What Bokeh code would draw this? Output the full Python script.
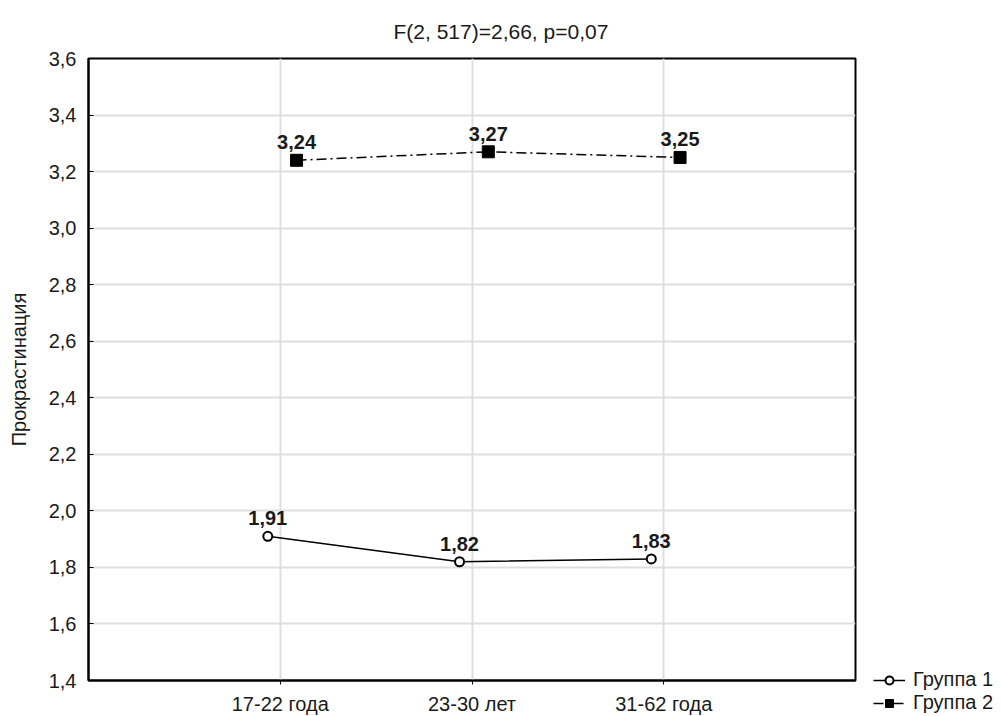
from bokeh.plotting import figure
from bokeh.models import (Range1d, FixedTicker, CustomJSTickFormatter,
                          ColumnDataSource, LabelSet, Legend, LegendItem)
from bokeh.core.properties import value
from bokeh.embed import file_html
from bokeh.resources import INLINE

# ---- data ----
categories = ["17-22 года", "23-30 лет", "31-62 года"]
group1 = [1.91, 1.82, 1.83]
group2 = [3.24, 3.27, 3.25]
series_names = ["Группа 1", "Группа 2"]
y_ticks = [1.4, 1.6, 1.8, 2.0, 2.2, 2.4, 2.6, 2.8, 3.0, 3.2, 3.4, 3.6]
title_text = "F(2, 517)=2,66, p=0,07"
y_label = "Прокрастинация"

FONT = "Liberation Sans"
TXT = "#1a1a1a"

pos = [i + 1 for i in range(len(categories))]
x1 = [v - 0.065 for v in pos]
x2 = [v + 0.085 for v in pos]


def fmt(v):
    return f"{v:.2f}".replace(".", ",")


p = figure(frame_width=767, frame_height=622,
           min_border_left=88, min_border_top=58, min_border_right=146, min_border_bottom=36,
           x_range=Range1d(0, len(categories) + 1), y_range=Range1d(y_ticks[0], y_ticks[-1]),
           output_backend="svg", toolbar_location=None, title=title_text)

p.title.text_font = FONT
p.title.text_font_size = "21px"
p.title.text_font_style = "normal"
p.title.text_color = TXT
p.title.align = "left"
p.title.offset = 305
p.title.standoff = 31

p.outline_line_color = "black"
p.outline_line_width = 2
p.background_fill_color = "white"
p.border_fill_color = "white"

# axes
xa = p.xaxis[0]
xa.ticker = FixedTicker(ticks=pos)
xa.major_label_overrides = {pv: c for pv, c in zip(pos, categories)}
xa.major_label_text_font = FONT
xa.major_label_text_font_size = "20px"
xa.major_label_text_color = TXT
xa.major_tick_in = 0
xa.major_tick_out = 4
xa.minor_tick_line_color = None
xa.major_label_standoff = 8
xa.axis_line_width = 2

ya = p.yaxis[0]
ya.ticker = FixedTicker(ticks=y_ticks)
ya.formatter = CustomJSTickFormatter(code="return tick.toFixed(1).replace('.', ',');")
ya.major_label_text_font = FONT
ya.major_label_text_font_size = "20px"
ya.major_label_text_color = TXT
ya.major_tick_in = 5
ya.major_tick_out = 0
ya.minor_tick_line_color = None
ya.major_label_standoff = 12
ya.axis_line_width = 2
ya.axis_label = y_label
ya.axis_label_text_font = FONT
ya.axis_label_text_font_size = "20px"
ya.axis_label_text_font_style = "normal"
ya.axis_label_text_color = TXT
ya.axis_label_standoff = 16

# grid
p.xgrid.ticker = FixedTicker(ticks=pos)
p.ygrid.ticker = FixedTicker(ticks=y_ticks)
p.grid.grid_line_color = "#dedede"
p.grid.grid_line_width = 2

# series
s1 = ColumnDataSource(dict(x=x1, y=group1, t=[fmt(v) for v in group1]))
s2 = ColumnDataSource(dict(x=x2, y=group2, t=[fmt(v) for v in group2]))

r1l = p.line("x", "y", source=s1, line_color="black", line_width=1.5)
r1s = p.scatter("x", "y", source=s1, marker="circle", size=9, fill_color="white",
                line_color="black", line_width=2)
r2l = p.line("x", "y", source=s2, line_color="black", line_width=1.5, line_dash="10 4 2 4")
r2s = p.scatter("x", "y", source=s2, marker="square", size=12, fill_color="black",
                line_color="black")

for s in (s1, s2):
    p.add_layout(LabelSet(x="x", y="y", text="t", source=s, text_align="center",
                          text_baseline="alphabetic", y_offset=11, text_font=value(FONT),
                          text_font_size="20px", text_font_style="bold", text_color=TXT))

legend = Legend(items=[LegendItem(label=series_names[0], renderers=[r1l, r1s]),
                       LegendItem(label=series_names[1], renderers=[r2l, r2s])],
                location=(18, -34), orientation="vertical",
                border_line_alpha=0, background_fill_alpha=0, padding=0, margin=0,
                spacing=0, glyph_width=32, glyph_height=20, label_height=20,
                label_standoff=8, label_text_font=FONT, label_text_font_size="20px",
                label_text_color=TXT)
p.add_layout(legend, "right")

open("out.html", "w").write(file_html(p, INLINE))
